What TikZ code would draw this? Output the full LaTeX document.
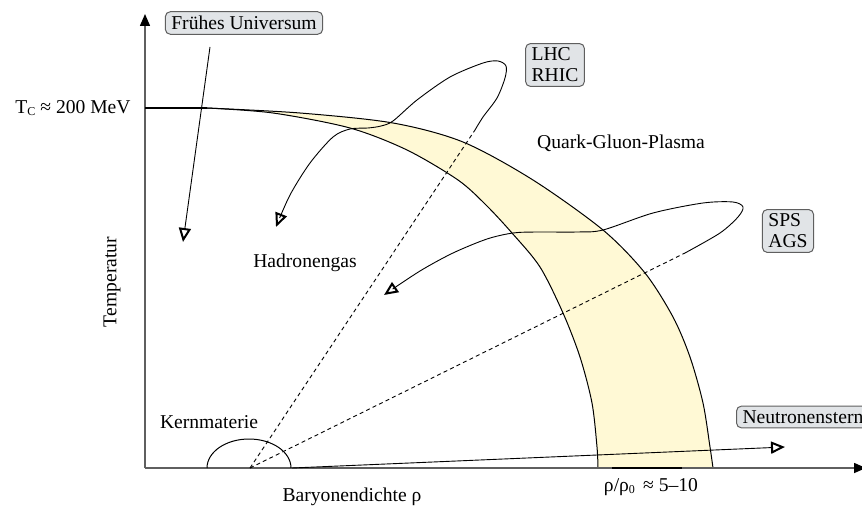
\documentclass[tikz,border=0pt]{standalone}
\usepackage{fontspec}
\setmainfont{Liberation Serif}
\usetikzlibrary{arrows.meta}
\definecolor{bandyellow}{RGB}{255,249,213}
\definecolor{boxfill}{RGB}{225,228,231}
\definecolor{axisgray}{RGB}{95,95,95}
\begin{document}
\begin{tikzpicture}[x=0.5pt,y=-0.5pt,
  font=\fontsize{9.8}{10.5}\selectfont,
  plain/.style={inner sep=0pt},
  labelbox/.style={draw=axisgray, fill=boxfill, rounded corners=2.5pt, line width=0.5pt,
                   inner xsep=3pt, inner ysep=2.2pt, align=left},
  traj/.style={line width=0.45pt, -{Triangle[open, length=7pt, width=6pt, line width=1pt]}},
  axisline/.style={draw=axisgray, line width=0.75pt, -{Triangle[length=6pt, width=5pt, color=black]}},
  dashline/.style={line width=0.45pt, dash pattern=on 2pt off 1.6pt},
  bound/.style={line width=0.5pt}]
\useasboundingbox (0,0) rectangle (862,508);

% band (crossover region)
\fill[bandyellow] plot[smooth] coordinates {(207,108) (300,113) (393,123) (463,142) (533,180) (603,230) (645,273) (673,317) (690,357) (703,403) (710,447) (713,468)}
  -- plot[smooth] coordinates {(598,468) (597,447) (592,403) (580,357) (563,313) (540,267) (512,233) (486,205) (458,180) (407,150) (350,128) (273,113) (207,108)} -- cycle;
\draw[bound] plot[smooth] coordinates {(207,108) (300,113) (393,123) (463,142) (533,180) (603,230) (645,273) (673,317) (690,357) (703,403) (710,447) (713,468)};
\draw[bound] plot[smooth] coordinates {(207,108) (273,113) (350,128) (407,150) (458,180) (486,205) (512,233) (540,267) (563,313) (580,357) (592,403) (597,447) (598,468)};

% axes
\coordinate (ax0) at (145,468);
\coordinate (axy) at (145,14);
\coordinate (axx) at (866,468);
\draw[axisline] (ax0) -- (axy);
\draw[axisline] (ax0) -- (axx);
\draw[line width=0.9pt] (145,108) -- (207,108);
\draw[line width=1.3pt] (612,468) -- (682,468);

% origin and Kernmaterie
\coordinate (O) at (250,468);
\draw[bound] (207,468) arc[start angle=180, end angle=360, x radius=42, y radius=29];
\coordinate (nsstart) at (292,468);

% dashed compression lines
\coordinate (lhcA) at (475,130);
\coordinate (spsA) at (685,253);
\draw[dashline] (O) -- (lhcA);
\draw[dashline] (O) -- (spsA);

% LHC trajectory
\draw[traj] plot[smooth] coordinates {(475,130) (483,117) (497,98) (505,78) (506,66) (498,61) (483,63) (450,77) (417,100) (393,121) (381,126) (368,128) (350,129) (333,137) (310,163) (290,195) (276,227)};

% SPS trajectory
\draw[traj] plot[smooth] coordinates {(685,253) (720,233) (738,217) (743,207) (733,202) (703,203) (653,213) (603,230) (577,232) (537,232) (513,233) (487,239) (453,253) (420,271) (384,295)};

% labels
\node[labelbox] (fu) at (244,23) {Frühes Universum};
\node[labelbox] (lhc) at (555,65) {LHC\\RHIC};
\node[labelbox] (sps) at (788,231) {SPS\\AGS};
\node[labelbox, anchor=west] (ns) at (736,417) {Neutronenstern};

% Fruehes Universum trajectory
\coordinate (fuA) at (210,47);
\draw[traj] (fuA) -- (183,242);

% Neutronenstern trajectory
\draw[traj] (nsstart) -- (785,447);

\node[plain, anchor=east] (tc) at (131,108) {T{\fontsize{6}{6}\selectfont\raisebox{-0.8pt}{C}} ≈ 200 MeV};
\node[plain] (qgp) at (621,143) {Quark-Gluon-Plasma};
\node[plain] (hg) at (305,263) {Hadronengas};
\node[plain] (km) at (209,422) {Kernmaterie};
\node[plain, rotate=90] (temp) at (112,282) {Temperatur};
\node[plain] (bar) at (352,497) {Baryonendichte ρ};
\node[plain] (rho) at (651,487) {ρ/ρ{\fontsize{6}{6}\selectfont\raisebox{-0.8pt}{0}}\, ≈ 5–10};
\end{tikzpicture}
\end{document}
